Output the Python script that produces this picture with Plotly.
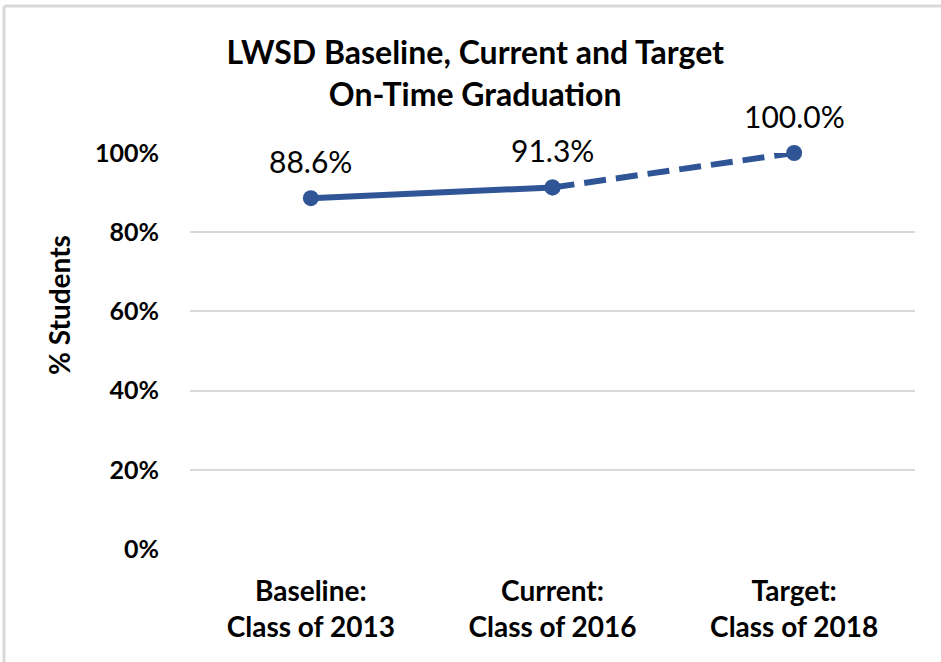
import plotly.graph_objects as go

categories = ["Baseline:<br>Class of 2013", "Current:<br>Class of 2016", "Target:<br>Class of 2018"]
values = [88.6, 91.3, 100.0]
value_labels = ["88.6%", "91.3%", "100.0%"]
y_ticks = [0, 20, 40, 60, 80, 100]
y_tick_labels = ["0%", "20%", "40%", "60%", "80%", "100%"]

COLOR = "#2F5597"
FONT = "Lato"

fig = go.Figure()
# solid segment (actual)
fig.add_trace(go.Scatter(
    x=categories[:2], y=values[:2], mode="lines+markers", cliponaxis=False,
    line=dict(color=COLOR, width=6),
    marker=dict(size=16, color=COLOR),
    showlegend=False, hoverinfo="skip"))
# dashed segment (target)
fig.add_trace(go.Scatter(
    x=categories[1:], y=values[1:], mode="lines+markers", cliponaxis=False,
    line=dict(color=COLOR, width=6, dash="22px,10px"),
    marker=dict(size=16, color=COLOR),
    showlegend=False, hoverinfo="skip"))

for c, v, t in zip(categories, values, value_labels):
    fig.add_annotation(x=c, y=v, text=t, showarrow=False, yshift=37,
                       font=dict(family=FONT, size=30, color="#000000"))

fig.add_annotation(xref="paper", yref="paper", x=(59 - 190) / 725, y=(549 - 305) / 396,
                   xanchor="center", yanchor="middle", text="<b>% Students</b>",
                   textangle=-90, showarrow=False,
                   font=dict(family=FONT, size=28, color="#000000"))

fig.update_layout(
    width=941, height=662,
    margin=dict(l=190, r=26, t=153, b=113),
    paper_bgcolor="white", plot_bgcolor="white",
    title=dict(text="<b>LWSD Baseline, Current and Target<br>On-Time Graduation</b>",
               x=0.505, xanchor="center", y=1 - 64 / 662, yanchor="middle",
               yref="container",
               font=dict(family=FONT, size=32, color="#000000")),
    xaxis=dict(type="category", showgrid=False, showline=False, ticks="",
               tickfont=dict(family=FONT, size=28, color="#000000"),
               range=[-0.5, 2.5], ticklabelstandoff=23),
    yaxis=dict(range=[0, 100], tickvals=y_ticks, ticktext=["<b>%s</b>" % t for t in y_tick_labels],
               showgrid=True, gridcolor="#D9D9D9", gridwidth=1.5, zeroline=False,
               showline=False, ticks="",
               tickfont=dict(family=FONT, size=25, color="#000000"), ticklabelstandoff=30),
    shapes=[
        dict(type="line", xref="paper", yref="paper", x0=(4 - 190) / 725, x1=(4 - 190) / 725,
             y0=(549 - 6) / 396, y1=(549 - 662) / 396, line=dict(color="#D9D9D9", width=3)),
        dict(type="line", xref="paper", yref="paper", x0=(4 - 190) / 725, x1=(941 - 190) / 725,
             y0=(549 - 6) / 396, y1=(549 - 6) / 396, line=dict(color="#D9D9D9", width=3)),
    ],
)
fig.update_xaxes(tickprefix="<b>", ticksuffix="</b>")
fig.write_html("out.html", post_script="document.body.style.margin='0';",
               config={"displayModeBar": False})
